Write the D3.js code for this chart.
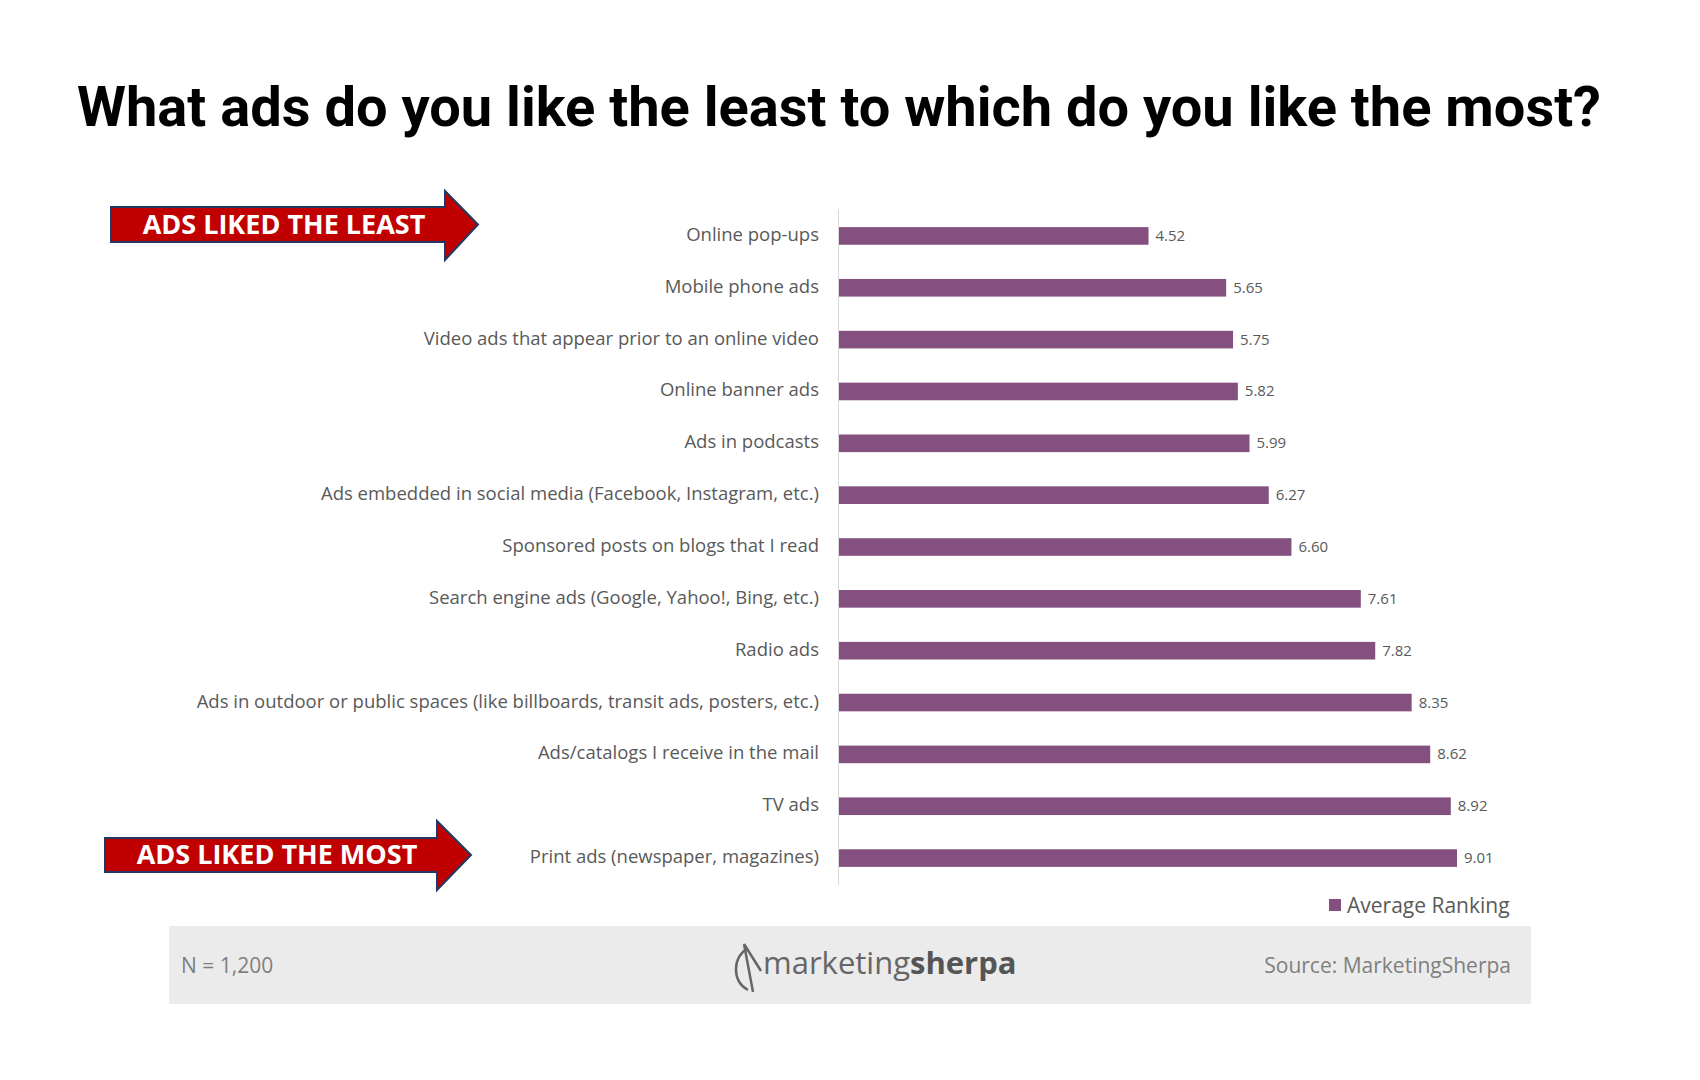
<!DOCTYPE html>
<html><head><meta charset="utf-8">
<script src="https://cdn.jsdelivr.net/npm/d3@7"></script>
<style>body{margin:0;background:#fff}</style></head>
<body><svg id="c" width="1700" height="1080"></svg>
<script>
const categories=["Online pop-ups","Mobile phone ads","Video ads that appear prior to an online video","Online banner ads","Ads in podcasts","Ads embedded in social media (Facebook, Instagram, etc.)","Sponsored posts on blogs that I read","Search engine ads (Google, Yahoo!, Bing, etc.)","Radio ads","Ads in outdoor or public spaces (like billboards, transit ads, posters, etc.)","Ads/catalogs I receive in the mail","TV ads","Print ads (newspaper, magazines)"];
const values=[4.52,5.65,5.75,5.82,5.99,6.27,6.60,7.61,7.82,8.35,8.62,8.92,9.01];
const seriesName="Average Ranking";
const svg=d3.select("#c");
const font="'Open Sans', sans-serif";
svg.append("text").attr("x",839).attr("y",126).attr("text-anchor","middle")
 .attr("font-family","Roboto, sans-serif").attr("font-weight",700).attr("font-size",56).attr("fill","#000")
 .text("What ads do you like the least to which do you like the most?");
const x=d3.scaleLinear().domain([0,10]).range([838,1525]);
const y=d3.scaleBand().domain(categories).range([210,884]).paddingInner(0.66).paddingOuter(0.33);
svg.append("line").attr("x1",838.5).attr("x2",838.5).attr("y1",209).attr("y2",885).attr("stroke","#d9d9d9");
const g=svg.append("g");
g.selectAll("rect").data(values).join("rect").attr("x",x(0)+1).attr("y",(d,i)=>y(categories[i]))
 .attr("width",d=>x(d)-x(0)-1).attr("height",y.bandwidth()).attr("fill","#83507f");
g.selectAll("text.v").data(values).join("text").attr("class","v").attr("x",d=>x(d)+7)
 .attr("y",(d,i)=>y(categories[i])+y.bandwidth()/2+5).attr("font-family",font).attr("font-size",15).attr("fill","#595959")
 .text(d=>d.toFixed(2));
g.selectAll("text.c").data(categories).join("text").attr("class","c").attr("x",819).attr("text-anchor","end")
 .attr("y",d=>y(d)+y.bandwidth()/2+5).attr("font-family",font).attr("font-size",18.5).attr("fill","#595959").text(d=>d);
svg.append("rect").attr("x",1329).attr("y",899).attr("width",12).attr("height",12).attr("fill","#83507f");
svg.append("text").attr("x",1347).attr("y",913).attr("font-family",font).attr("font-size",21).attr("fill","#595959").text(seriesName);
// footer
svg.append("rect").attr("x",169).attr("y",926).attr("width",1362).attr("height",78).attr("fill","#ebebeb");
svg.append("text").attr("x",181).attr("y",973).attr("font-family",font).attr("font-size",21).attr("fill","#7f7f7f").text("N = 1,200");
svg.append("text").attr("x",1511).attr("y",973).attr("text-anchor","end").attr("font-family",font).attr("font-size",21).attr("fill","#7f7f7f").text("Source: MarketingSherpa");
const logo=svg.append("text").attr("x",763).attr("y",974).attr("font-family",font).attr("font-size",31).attr("fill","#666");
logo.append("tspan").attr("font-weight",400).text("marketing");
logo.append("tspan").attr("font-weight",700).attr("fill","#555").text("sherpa");
svg.append("path").attr("d","M748,948 C732,958 732,981 748,990 M744,944 L753,992 M744,944 L761,971").attr("fill","none").attr("stroke","#666").attr("stroke-width",2.5);
// arrows
function arrow(x0,x1,tip,yt,yb,ht,hb,label){
 svg.append("path").attr("d",`M${x0},${yt}L${x1},${yt}L${x1},${ht}L${tip},${(yt+yb)/2}L${x1},${hb}L${x1},${yb}L${x0},${yb}Z`)
  .attr("fill","#c00000").attr("stroke","#1f3864").attr("stroke-width",2);
 svg.append("text").attr("x",(x0+x1)/2+6).attr("y",(yt+yb)/2+9).attr("text-anchor","middle").attr("font-family",font)
  .attr("font-weight",700).attr("font-size",27).attr("fill","#fff").text(label);
}
arrow(111,445,478,207,242,191,260,"ADS LIKED THE LEAST");
arrow(105,437,471,838,872,821,890,"ADS LIKED THE MOST");
</script></body></html>
